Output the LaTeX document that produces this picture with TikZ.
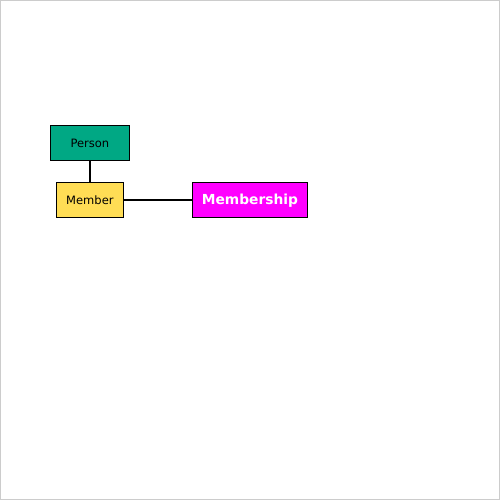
\documentclass[tikz,border=0pt]{standalone}
\usepackage{fontspec}
\setmainfont{DejaVu Sans}
\definecolor{personc}{RGB}{0,168,132}
\definecolor{memberc}{RGB}{255,221,85}
\definecolor{shipc}{RGB}{255,0,255}
\definecolor{framec}{RGB}{204,204,204}
\begin{document}
\begin{tikzpicture}[x=1pt,y=-1pt,
  box/.style={draw=black,line width=0.8pt,inner sep=0pt,anchor=north west,text depth=0pt},
  small/.style={font=\fontsize{11.5}{13}\selectfont,text height=8.4pt},
  big/.style={font=\fontsize{13.8}{16}\selectfont\bfseries,text height=10pt},
  link/.style={draw=black,line width=1.6pt}]
\draw[framec,fill=white,line width=1pt] (0.5,0.5) rectangle (499.5,499.5);
\useasboundingbox (0,0) rectangle (500,500);
\node[box,small,fill=personc,minimum width=79pt,minimum height=35pt] (person) at (50,125) {Person};
\node[box,small,fill=memberc,minimum width=67pt,minimum height=35pt] (member) at (56,182) {Member};
\node[box,big,fill=shipc,minimum width=115pt,minimum height=35pt,text=white] (ship) at (192,182) {Membership};
\draw[link] (person.south) -- (person.south |- member.north);
\draw[link] (member.east) -- (ship.west);
\end{tikzpicture}
\end{document}
